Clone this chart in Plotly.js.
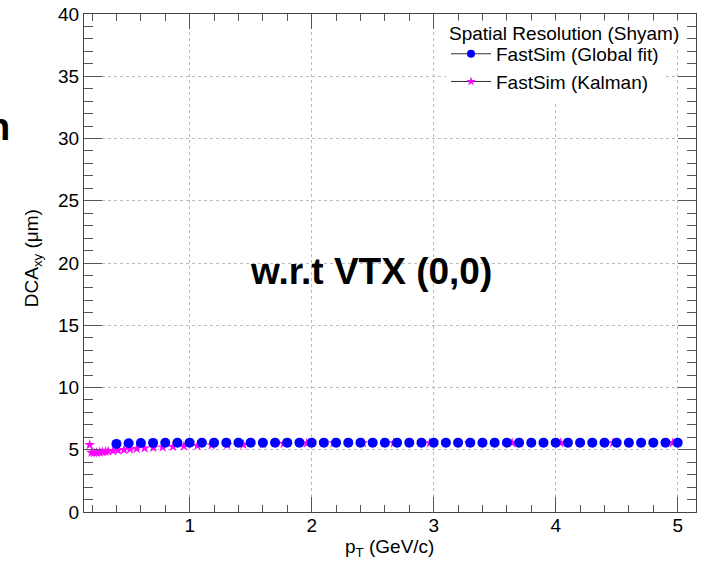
<!DOCTYPE html>
<html>
<head>
<meta charset="utf-8">
<script src="https://cdn.plot.ly/plotly-3.0.1.min.js"></script>
<style>html,body{margin:0;padding:0;background:#fff;}#chart{width:702px;height:564px;}</style>
</head>
<body>
<div id="chart"></div>
<script>
// Global fit series (blue circles)
const globalX = [0.4,0.5,0.6,0.7,0.8,0.9,1.0,1.1,1.2,1.3,1.4,1.5,1.6,1.7,1.8,1.9,2.0,2.1,2.2,2.3,2.4,2.5,2.6,2.7,2.8,2.9,3.0,3.1,3.2,3.3,3.4,3.5,3.6,3.7,3.8,3.9,4.0,4.1,4.2,4.3,4.4,4.5,4.6,4.7,4.8,4.9,5.0];
const globalY = [5.47,5.52,5.54,5.55,5.56,5.56,5.57,5.57,5.57,5.57,5.57,5.57,5.57,5.57,5.57,5.57,5.57,5.57,5.57,5.57,5.57,5.57,5.57,5.57,5.57,5.57,5.57,5.57,5.57,5.57,5.57,5.57,5.57,5.57,5.57,5.57,5.57,5.57,5.57,5.57,5.57,5.57,5.57,5.57,5.57,5.57,5.57];
// Kalman series (magenta stars)
const kalmanX = [0.181,0.195,0.216,0.238,0.263,0.285,0.31,0.331,0.372,0.413,0.462,0.511,0.566,0.631,0.702,0.779,0.863,0.953,1.063,1.18,1.309,1.44,1.60,1.77,1.96,2.18,2.42,2.673,2.968,3.29,3.643,4.04,4.47,4.96];
const kalmanY = [5.40,4.78,4.76,4.78,4.80,4.83,4.86,4.88,4.92,4.96,5.00,5.05,5.09,5.13,5.17,5.21,5.25,5.29,5.33,5.37,5.40,5.42,5.46,5.50,5.52,5.54,5.55,5.55,5.55,5.55,5.55,5.55,5.55,5.55];
const seriesNames = ["FastSim (Global fit)", "FastSim (Kalman)"];
const legendHeader = "Spatial Resolution (Shyam)";
const xTitle = "p<sub>T</sub> (GeV/c)";
const yTitle = "DCA<sub>xy</sub> (μm)";
const label = "w.r.t VTX (0,0)";

const FONT = "Liberation Sans, Arial, Helvetica, sans-serif";
const BLUE = "#0000ff", MAG = "#ff00ff";

const traces = [
  {x: kalmanX, y: kalmanY, mode: "markers", type: "scatter", showlegend: false,
   marker: {symbol: "star", size: 8, color: MAG}},
  {x: globalX, y: globalY, mode: "markers", type: "scatter", showlegend: false,
   marker: {symbol: "circle", size: 10, color: BLUE}},
  {x: [null], y: [null], mode: "lines+markers", type: "scatter", name: seriesNames[0],
   line: {color: "#333", width: 1}, marker: {symbol: "circle", size: 8, color: BLUE}},
  {x: [null], y: [null], mode: "lines+markers", type: "scatter", name: seriesNames[1],
   line: {color: "#333", width: 1}, marker: {symbol: "star", size: 7, color: MAG}}
];

const axisCommon = {
  showline: true, linecolor: "#444", linewidth: 1, mirror: "ticks",
  ticks: "inside", tickcolor: "#555", tickwidth: 1,
  showgrid: true, gridcolor: "#bdbdbd", griddash: "dot", gridwidth: 1,
  zeroline: false, tickfont: {family: FONT, size: 19, color: "#000"}
};

const layout = {
  width: 702, height: 564,
  margin: {l: 84, r: 6, t: 14, b: 52},
  paper_bgcolor: "#fff", plot_bgcolor: "#fff",
  font: {family: FONT, color: "#000"},
  xaxis: Object.assign({}, axisCommon, {
    range: [0.134, 5.15], tick0: 0, dtick: 1, ticklen: 15, ticklabelstandoff: -4,
    minor: {dtick: 0.2, ticks: "inside", ticklen: 7, tickcolor: "#555", showgrid: false}
  }),
  yaxis: Object.assign({}, axisCommon, {
    range: [0, 40], tick0: 0, dtick: 5, ticklen: 18,
    minor: {dtick: 1, ticks: "inside", ticklen: 9, tickcolor: "#555", showgrid: false}
  }),
  legend: {
    x: (446 - 84) / 612, y: 0.958, xanchor: "left", yanchor: "top",
    bgcolor: "#fff", borderwidth: 0, itemwidth: 40,
    font: {family: FONT, size: 19, color: "#000"}
  },
  annotations: [
    {text: legendHeader, x: (446 - 84) / 612, xref: "paper", y: (512 - 33) / 498, yref: "paper",
     showarrow: false, xanchor: "left", yanchor: "middle", bgcolor: "#fff", borderpad: 2,
     font: {family: FONT, size: 19, color: "#000"}},
    {text: "<b>" + label + "</b>", x: 2.49, y: 19.3, xref: "x", yref: "y",
     showarrow: false, font: {family: FONT, size: 37, color: "#000"}},
    {text: xTitle, x: (389 - 84) / 612, xref: "paper", y: -0.072, yref: "paper", showarrow: false,
     xanchor: "center", yanchor: "middle", font: {family: FONT, size: 19, color: "#000"}},
    {text: yTitle, x: -0.083, xref: "paper", y: 0.51, yref: "paper", showarrow: false,
     textangle: -90, xanchor: "center", yanchor: "middle", font: {family: FONT, size: 19, color: "#000"}},
    {text: "<b>n</b>", x: -0.118, xref: "paper", y: 0.773, yref: "paper", showarrow: false,
     xanchor: "right", yanchor: "middle", font: {family: FONT, size: 38, color: "#000"}}
  ]
};

Plotly.newPlot("chart", traces, layout, {staticPlot: true, displayModeBar: false});
</script>
</body>
</html>
